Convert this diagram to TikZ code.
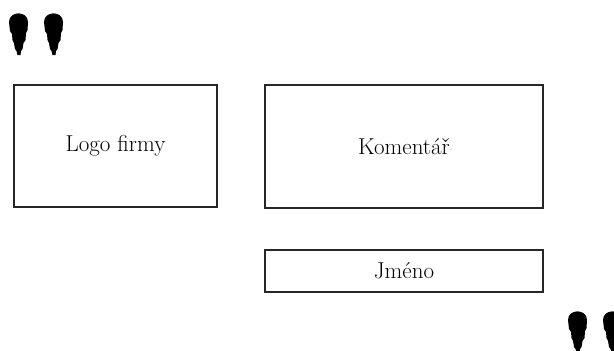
\documentclass[tikz,border=0pt]{standalone}
\begin{document}
\begin{tikzpicture}[x=1pt,y=-1pt,
  box/.style={draw=black!85,line width=1.3pt,inner sep=0pt},
  lbl/.style={font=\fontsize{23}{26}\selectfont},
  pinmark/.pic={\fill[black] (0,9) .. controls (0,-2.5) and (19,-2.5) .. (19,9) -- (18.5,17) -- (17,20) -- (16.5,27) -- (14.5,30) -- (13.5,36) -- (12,38) -- (11.5,42) -- (8.5,42) -- (7.5,38) -- (6,36) -- (5,30) -- (3.5,27) -- (3,21) -- (1,18) -- cycle;}]
\useasboundingbox (0,0) rectangle (614,351);
\fill[white] (0,0) rectangle (614,351);
\node[box,minimum width=203pt,minimum height=122pt] (logo) at (115.5,146) {};
\node[lbl] (logot) at (logo.center) {Logo firmy};
\node[box,minimum width=278pt,minimum height=123pt] (kom) at (404,146.5) {};
\node[lbl] (komt) at (kom.center) {Komentář};
\node[box,minimum width=278pt,minimum height=42pt] (jm) at (404,271) {};
\node[lbl] (jmt) at (jm.center) {Jméno};
\pic at (9,13) {pinmark};
\pic at (44,13) {pinmark};
\pic at (568,311) {pinmark};
\pic at (603,311) {pinmark};
\end{tikzpicture}
\end{document}
